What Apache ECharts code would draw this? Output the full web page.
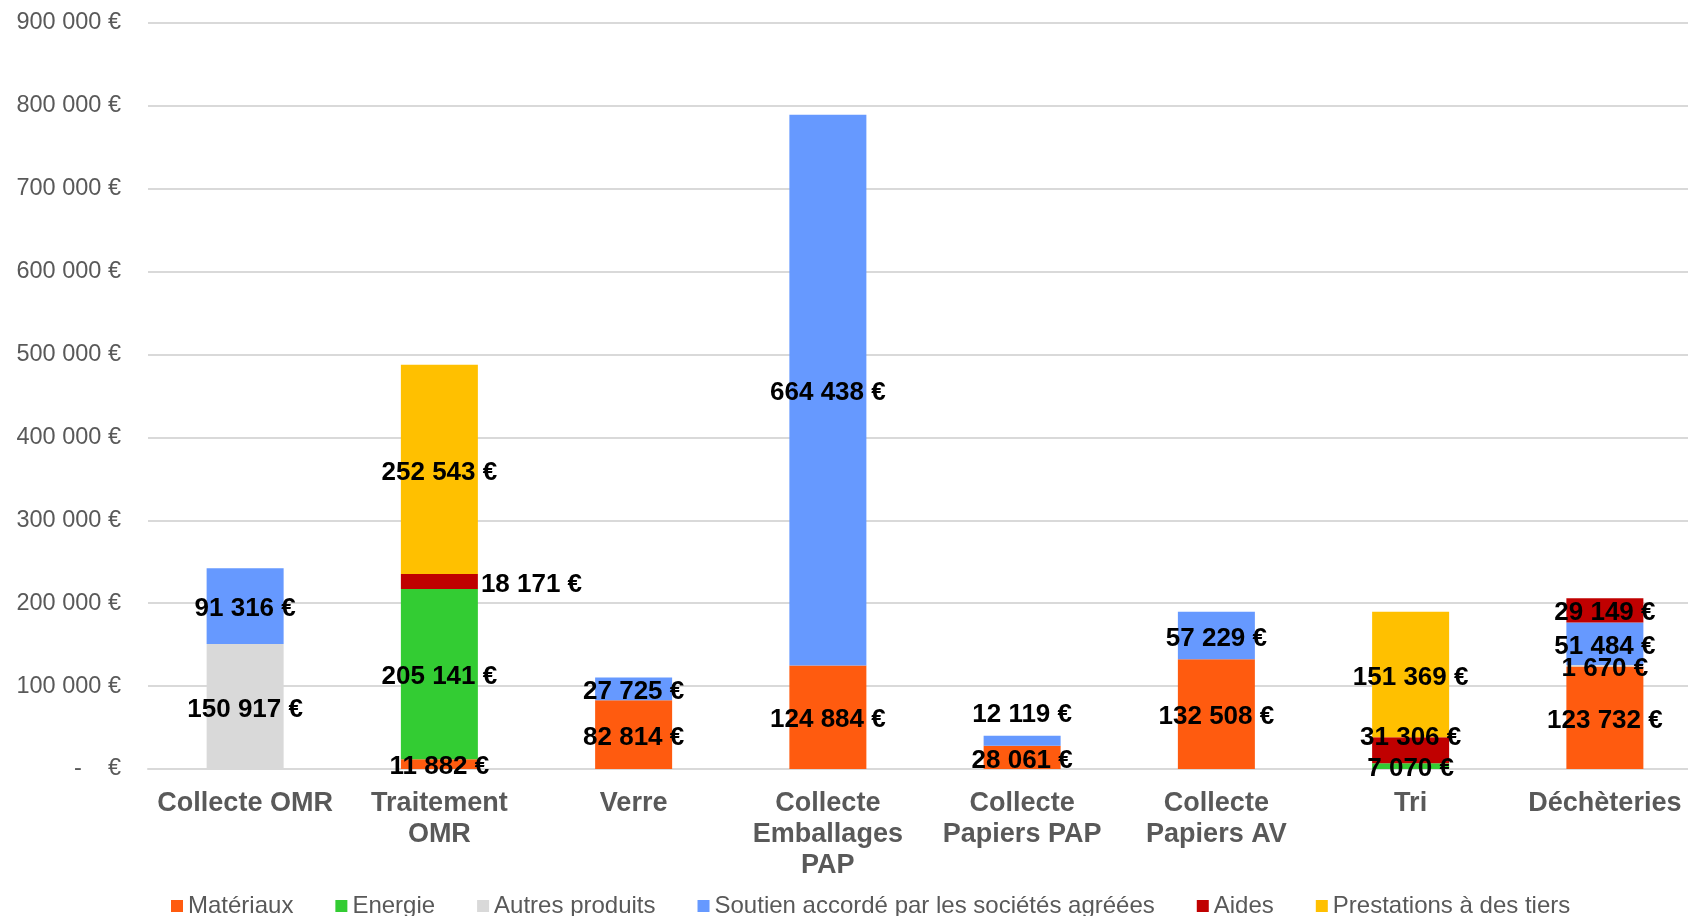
<!DOCTYPE html>
<html>
<head>
<meta charset="utf-8">
<script src="https://cdn.jsdelivr.net/npm/echarts@6/dist/echarts.min.js"></script>
<style>
  html, body { margin: 0; padding: 0; background: #ffffff; overflow: hidden; }
  /* the plot runs slightly past the right edge of the window */
  #chart { width: 1702px; height: 916px; }
</style>
</head>
<body>
<div id="chart"></div>
<script>
// Recettes par poste, en euros
const categories = ['Collecte OMR', 'Traitement\nOMR', 'Verre', 'Collecte\nEmballages\nPAP',
  'Collecte\nPapiers PAP', 'Collecte\nPapiers AV', 'Tri', 'Déchèteries'];
const materiaux      = [null, 11882, 82814, 124884, 28061, 132508, null, 123732];
const energie        = [null, 205141, null, null, null, null, 7070, null];
const autresProduits = [150917, null, null, null, null, null, null, 1670];
const soutien        = [91316, null, 27725, 664438, 12119, 57229, null, 51484];
const aides          = [null, 18171, null, null, null, null, 31306, 29149];
const prestations    = [null, 252543, null, null, null, null, 151369, null];
const seriesNames = ['Matériaux', 'Energie', 'Autres produits',
  'Soutien accordé par les sociétés agréées', 'Aides', 'Prestations à des tiers'];
const yMin = 0, yMax = 900000, yStep = 100000;

const FONT = "'Liberation Sans', Arial, sans-serif";
const colors = ['#FF5B0F', '#33CC33', '#D9D9D9', '#6699FF', '#C00000', '#FFC000'];

function euro(v) {
  if (v === 0) return '-    €';
  return String(Math.round(v)).replace(/\B(?=(\d{3})+(?!\d))/g, ' ') + ' €';
}

// Per-point label placement tweaks: [series index, category index] -> label options
const labelTweaks = {
  '4,1': { position: 'right', distance: 3 },
  '3,4': { position: 'top', distance: 11 },
  '4,6': { offset: [0, -12] }
};

const values = [materiaux, energie, autresProduits, soutien, aides, prestations];

const series = values.map((arr, si) => ({
  name: seriesNames[si],
  type: 'bar',
  stack: 'total',
  barWidth: 77,
  itemStyle: { color: colors[si] },
  label: {
    show: true,
    position: 'inside',
    offset: [0, 3],
    color: '#000000',
    fontFamily: FONT,
    fontWeight: 'bold',
    fontSize: 26,
    formatter: p => (p.value == null ? '' : euro(p.value))
  },
  emphasis: { disabled: true },
  data: arr.map((v, ci) => {
    const t = labelTweaks[si + ',' + ci];
    return t ? { value: v, label: t } : v;
  })
}));

const chart = echarts.init(document.getElementById('chart'), null, { renderer: 'canvas' });
chart.setOption({
  animation: false,
  backgroundColor: '#ffffff',
  color: colors,
  grid: { left: 148, right: 0, top: 23, height: 746, containLabel: false },
  legend: {
    left: 166,
    top: 889,
    itemWidth: 12,
    itemHeight: 12,
    itemGap: 42,
    icon: 'rect',
    textStyle: { color: '#595959', fontFamily: FONT, fontSize: 24 },
    data: seriesNames
  },
  xAxis: {
    type: 'category',
    data: categories,
    axisLine: { show: true, lineStyle: { color: '#D9D9D9', width: 2 } },
    axisTick: { show: false },
    axisLabel: {
      interval: 0,
      margin: 19,
      color: '#595959',
      fontFamily: FONT,
      fontWeight: 'bold',
      fontSize: 27,
      lineHeight: 31
    }
  },
  yAxis: {
    type: 'value',
    min: yMin,
    max: yMax,
    interval: yStep,
    axisLine: { show: false },
    axisTick: { show: false },
    splitLine: { lineStyle: { color: '#D9D9D9', width: 2 } },
    axisLabel: {
      margin: 27,
      color: '#595959',
      fontFamily: FONT,
      fontSize: 23.5,
      formatter: euro
    }
  },
  series: series
});
</script>
</body>
</html>
